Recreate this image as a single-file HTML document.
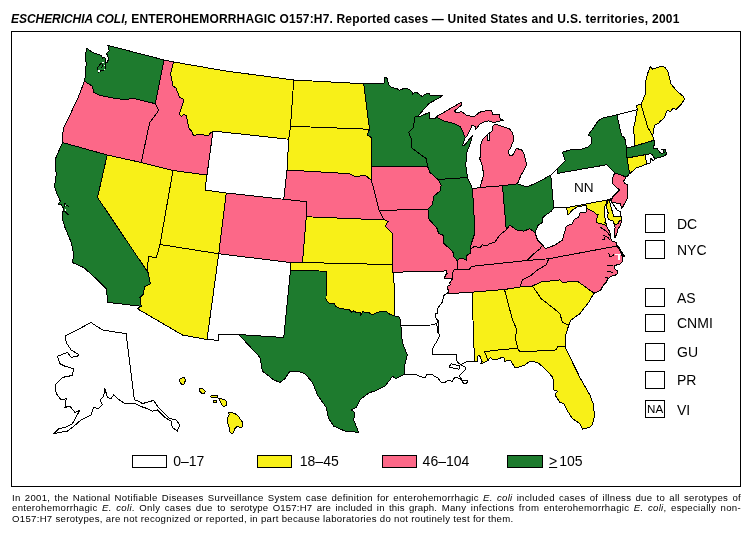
<!DOCTYPE html>
<html><head><meta charset="utf-8"><title>E. coli O157:H7 reported cases 2001</title>
<style>
html,body{margin:0;padding:0;background:#fff;}
body{width:754px;height:537px;position:relative;overflow:hidden;font-family:"Liberation Sans",Arial,Helvetica,sans-serif;color:#000;}
#title{position:absolute;left:11px;top:12px;font-size:12px;font-weight:bold;white-space:nowrap;line-height:14px;letter-spacing:0.17px;}
#frame{position:absolute;left:11px;top:31px;width:730px;height:456px;border:1px solid #000;box-sizing:border-box;}
#map{position:absolute;left:0;top:0;}
.lab{position:absolute;font-size:14px;line-height:16px;white-space:nowrap;}
.box{position:absolute;border:1px solid #000;background:#fff;box-sizing:border-box;}
#foot{position:absolute;left:12px;top:492.6px;width:729px;font-size:9.6px;line-height:10.75px;text-align:justify;letter-spacing:0.3px;}
#foot div{text-align:justify;text-align-last:justify;white-space:nowrap;}
#foot div.last{width:501.5px;}
</style></head><body>
<div id="title"><i style="letter-spacing:-0.05px">ESCHERICHIA COLI,</i> ENTEROHEMORRHAGIC O157:H7. Reported cases — <span style="letter-spacing:0.29px">United States and U.S. territories, 2001</span></div>
<div id="frame"></div>
<svg id="map" width="754" height="537" viewBox="0 0 754 537" shape-rendering="crispEdges">
<g stroke="#000" stroke-width="1" stroke-linejoin="round">
<path id="WA" fill="#1e7b2e" d="M86.6,48.2 L92.7,52.7 L100.9,55.2 L102.5,58.2 L105,57.5 L105.6,62.5 L106.8,62.8 L108.5,59.6 L107.8,55.8 L106.3,53.6 L109.1,50.8 L107.8,45.4 L164.09,59.98 L155.36,103.67 L149.86,102.42 L134.88,98.68 L122.4,99.43 L112.41,97.93 L99.93,95.43 L93.68,92.43 L92.43,86.19 L84.44,81.2 L85.69,74.96 L84.94,69.96 L86.19,64.97 L85.6,56 L86,52 L86.6,48.2Z"/>
<path id="OR" fill="#fc6888" d="M84.44,81.2 L78.7,96.18 L69.96,114.91 L63.72,127.39 L62.47,136.13 L62.5,142.5 L107.2,155 L141.25,162.5 L148.6,127.4 L150,122.2 L158.7,110.4 L155.36,103.67 L149.86,102.42 L134.88,98.68 L122.4,99.43 L112.41,97.93 L99.93,95.43 L93.68,92.43 L92.43,86.19 L84.44,81.2Z"/>
<path id="ID" fill="#fc6888" d="M164.09,59.98 L173.58,61.97 L170.6,74 L172.2,81.9 L172.9,85.9 L176.1,88.2 L179.3,96.9 L184,99.6 L179.3,114.3 L181.6,116.7 L184,114.3 L186.4,115.9 L188.8,127.8 L191.9,131.7 L193.5,135.7 L199,134.1 L203.8,134.9 L208.5,135.7 L210.9,132.5 L212.5,132.5 L213,131 L207,175 L173,170.5 L141.25,162.5 L148.6,127.4 L150,122.2 L158.7,110.4 L155.36,103.67Z"/>
<path id="MT" fill="#f8f018" d="M173.58,61.97 L170.6,74 L172.2,81.9 L172.9,85.9 L176.1,88.2 L179.3,96.9 L184,99.6 L179.3,114.3 L181.6,116.7 L184,114.3 L186.4,115.9 L188.8,127.8 L191.9,131.7 L193.5,135.7 L199,134.1 L203.8,134.9 L208.5,135.7 L210.9,132.5 L212.5,132.5 L213,131 L288.75,139.25 L290.5,126.25 L293.75,80 L225,70.9Z"/>
<path id="WY" fill="#ffffff" d="M213,131 L288.75,139.25 L287,170 L283.75,199.25 L226.25,193 L205,190 L207,175Z"/>
<path id="UT" fill="#f8f018" d="M173,170.5 L207,175 L205,190 L226.25,193 L218.75,253.75 L160,244.5Z"/>
<path id="CO" fill="#fc6888" d="M226.25,193 L283.75,199.25 L307,201.75 L306.25,216.75 L302.5,262.5 L290.5,262.5 L218.75,253.75Z"/>
<path id="NV" fill="#f8f018" d="M107.2,155 L141.25,162.5 L173,170.5 L160,244.5 L156.25,258 L148.75,256.25 L147.5,266 L148,272.5 L97.5,197.5Z"/>
<path id="CA" fill="#1e7b2e" d="M62.5,142.5 L107.2,155 L97.5,197.5 L148,272.5 L150.36,283.72 L144.37,286.97 L143.62,293.71 L139.88,297.45 L141.25,306.25 L107.92,302.45 L106.17,288.71 L96.18,278.73 L83.7,267.49 L72.46,262.5 L72.46,262.36 L73.71,254.87 L71.21,242.38 L64.97,227.4 L62.4,219 L62.4,212.2 L63.2,211.6 L63,207.8 L60.8,204.3 L58.1,204 L60.5,201.6 L55.4,190 L54.48,186.2 L56.23,174.97 L54.98,159.99 L58.73,151.25Z"/>
<path id="AZ" fill="#f8f018" d="M160,244.5 L218.75,253.75 L207,339.5 L182.5,335 L137.5,308.75 L141.25,306.25 L139.88,297.45 L143.62,293.71 L144.37,286.97 L150.36,283.72 L148,272.5 L147.5,266 L148.75,256.25 L156.25,258Z"/>
<path id="NM" fill="#ffffff" d="M218.75,253.75 L290.5,262.5 L290.5,270 L283.75,337.5 L238.75,334.5 L218.5,334.5 L218.5,340.3 L207,339.5Z"/>
<path id="TX" fill="#1e7b2e" d="M238.75,334.5 L283.75,337.5 L290.5,270 L326.25,271.25 L326,299.5 L328,302.2 L330.1,303.8 L333.8,303.3 L335.9,306.4 L339.1,308 L344.4,309.1 L348.6,309.1 L351.8,312.3 L353.9,310.7 L356.6,312.8 L360.3,312.3 L360.8,315.5 L362.4,311.8 L365.6,312.3 L369.3,312.8 L372,314.9 L376.2,312.8 L382.6,311.2 L386.8,311.8 L390,314.4 L394.8,316 L399,317.1 L400.3,319.5 L400.9,325.4 L402.35,342.47 L407.34,354.96 L404.84,364.94 L405,374 L396.1,378.68 L392.36,376.18 L389.86,379.93 L384.87,386.17 L374.88,391.16 L369.89,392.41 L366.14,394.91 L359.9,399.9 L356.15,407.39 L351.16,409.89 L354.91,412.38 L353.66,419.88 L358.65,432.36 L344.92,431.11 L333.68,426.12 L328.69,418.63 L326.19,407.39 L317.45,394.91 L312.46,382.42 L304.97,373.68 L297.48,371.19 L289.99,371.19 L284.99,378.68 L280,382.42 L273.66,379.85 L262.42,371.11 L259.93,357.38Z"/>
<path id="OK" fill="#f8f018" d="M290.5,262.5 L302.5,262.5 L392,264.6 L393,272.6 L394.3,285.9 L394.8,316 L390,314.4 L386.8,311.8 L382.6,311.2 L376.2,312.8 L372,314.9 L369.3,312.8 L365.6,312.3 L362.4,311.8 L360.8,315.5 L360.3,312.3 L356.6,312.8 L353.9,310.7 L351.8,312.3 L348.6,309.1 L344.4,309.1 L339.1,308 L335.9,306.4 L333.8,303.3 L330.1,303.8 L328,302.2 L326,299.5 L326.25,271.25 L290.5,270Z"/>
<path id="KS" fill="#f8f018" d="M306.25,216.75 L385.1,220 L388.5,221.5 L387.1,223.2 L385.5,226.2 L389.5,230.5 L392,232.6 L392,264.6 L302.5,262.5Z"/>
<path id="NE" fill="#fc6888" d="M287,170 L349.81,173.72 L356.05,176.97 L364.79,174.97 L371.25,180 L375.4,195 L377.8,205 L379.1,210.4 L382.8,217.8 L385.1,220 L306.25,216.75 L307,201.75 L283.75,199.25Z"/>
<path id="SD" fill="#f8f018" d="M290.5,126.25 L369.5,129.25 L367.29,134.88 L371.04,137.38 L371.25,166.25 L371.25,180 L364.79,174.97 L356.05,176.97 L349.81,173.72 L287,170 L288.75,139.25Z"/>
<path id="ND" fill="#f8f018" d="M293.75,80 L363.75,83.75 L366.04,102.42 L369.5,129.25 L290.5,126.25Z"/>
<path id="MN" fill="#1e7b2e" d="M363.75,83.75 L375,83.5 L384,83.3 L384.5,77.4 L386.7,77.4 L388.8,84.9 L390.9,87 L397.8,89.1 L399.4,90.2 L403.6,88.6 L409,89.1 L412.1,91.8 L412.7,94.4 L414.3,92.8 L417.4,92.8 L420.6,95.5 L422.2,96.5 L425.9,93.9 L429.6,93.3 L430.2,95.5 L442.9,95.5 L438.7,98.1 L429.1,103.4 L417.4,116.7 L414.5,117.2 L413.71,127.39 L408.71,132.38 L411.21,138.63 L411.21,147.37 L417.45,152.36 L426.19,158.6 L427.5,166.25 L371.25,166.25 L371.04,137.38 L367.29,134.88 L369.5,129.25 L366.04,102.42Z"/>
<path id="IA" fill="#fc6888" d="M371.25,166.25 L427.5,166.25 L429.94,172.47 L438,179.5 L441.17,184.96 L439.93,191.2 L433.68,196.19 L432.43,204.93 L431.25,205.59 L428,209.3 L379.1,210.4 L377.8,205 L375.4,195 L371.25,180Z"/>
<path id="MO" fill="#fc6888" d="M379.1,210.4 L428,209.3 L428.45,218.62 L436.83,227.93 L438.7,233.52 L443.35,235.38 L443.35,242.83 L450.9,250 L453.2,252.7 L453.9,256.6 L457.2,260.6 L457.9,265.3 L457.9,269.2 L454.2,269.6 L452.6,273.2 L452.6,278.5 L444.3,278.5 L445.6,274.9 L447.3,273.5 L446.3,270.9 L440.6,271.2 L411.5,271.5 L393,272.6 L392,232.6 L389.5,230.5 L385.5,226.2 L387.1,223.2 L388.5,221.5 L385.1,220 L382.8,217.8Z"/>
<path id="AR" fill="#ffffff" d="M393,272.6 L411.5,271.5 L440.6,271.2 L446.3,270.9 L447.3,273.5 L445.6,274.9 L444.3,278.5 L452.6,278.5 L450.9,281.2 L449.6,283.2 L450.3,285 L447.1,286.5 L448.7,291.8 L446,293.8 L443.4,295.8 L442.7,301.8 L438,307.8 L437.4,313.1 L435.4,313.1 L436.1,319 L438,320.4 L436.7,323.7 L431.4,325 L400.9,325.4 L400.3,319.5 L399,317.1 L394.8,316 L394.3,285.9Z"/>
<path id="LA" fill="#ffffff" d="M400.9,325.4 L431.4,325 L436.7,323.7 L438,333 L439.93,334.91 L436.18,342.4 L432.43,348.64 L432.2,354.9 L456.7,354.6 L456.1,359.1 L458.5,363.3 L460.9,364.5 L462.1,365.7 L465.1,366.9 L465.1,369.8 L462.1,372.8 L459.1,375.8 L462.1,380 L468,380.6 L466.8,383 L463.9,384.2 L462.1,380.6 L458.5,378.2 L454.9,377 L452.5,381.2 L447.7,380.6 L444.2,383 L440.6,381.8 L438.2,378.2 L434.6,376.4 L432.2,374 L426.9,374 L425.7,377 L422.1,377 L415.5,374.6 L405,374 L404.84,364.94 L407.34,354.96 L402.35,342.47Z"/>
<path id="MS" fill="#ffffff" d="M446,293.8 L472,292.2 L474.5,361.3 L466,361.9 L460.9,364.5 L458.5,363.3 L456.1,359.1 L456.7,354.6 L432.2,354.9 L432.43,348.64 L436.18,342.4 L439.93,334.91 L438,333 L438,320.4 L436.1,319 L435.4,313.1 L437.4,313.1 L438,307.8 L442.7,301.8 L443.4,295.8Z"/>
<path id="AL" fill="#f8f018" d="M472,292.2 L504.5,289.5 L512.5,320 L517,330 L515,338 L516.7,343 L517.5,348 L515.9,348.4 L494.4,350.3 L484.5,351.9 L486.1,355.1 L487.7,360.7 L486.5,361.1 L482.9,363.1 L480.5,363.5 L482.1,361.5 L479.7,355.9 L478.1,355.5 L477.3,361.5 L474.5,361.3Z"/>
<path id="FL" fill="#f8f018" d="M487.7,360.7 L486.1,355.1 L484.5,351.9 L494.4,350.3 L515.9,348.4 L517.5,348 L519.9,351.9 L556.15,349.96 L557.9,346.22 L565,347 L579.88,377.43 L589.86,394.91 L593.61,404.89 L594.36,416.13 L592.36,424.87 L589.86,427.37 L582.37,429.11 L579.88,423.62 L572.38,418.63 L566.14,408.64 L563.65,403.65 L559.9,402.4 L554.91,394.91 L557.4,391.16 L553.66,389.91 L552.91,377.43 L543.67,367.44 L537.43,362.45 L529.94,361.2 L524.94,364.94 L519.1,367 L515.1,367.8 L512.7,363.9 L510.7,360.7 L508.4,360.7 L504.8,361.1 L504,357.9 L501.6,357.5 L499.2,358.7 L494.8,359.9 L492.4,359.5 L490.5,357.5Z"/>
<path id="GA" fill="#f8f018" d="M504.5,289.5 L520,287 L532.5,286 L541.17,298.65 L552.41,307.39 L559.9,313.63 L562.4,322.37 L568.75,325 L565,337.5 L565,347 L557.9,346.22 L556.15,349.96 L519.9,351.9 L517.5,348 L516.7,343 L515,338 L517,330 L512.5,320Z"/>
<path id="SC" fill="#f8f018" d="M532.5,286 L541.17,281.92 L559.9,279.93 L562.4,282.42 L577.38,281.17 L594,293.2 L588.61,302.4 L579.88,313.63 L571.14,319.88 L568.75,325 L562.4,322.37 L559.9,313.63 L552.41,307.39 L541.17,298.65Z"/>
<path id="NC" fill="#fc6888" d="M520,287 L522.45,279.93 L529.94,276.18 L537.43,269.94 L546.17,264.94 L548.75,258.75 L617,246 L620.2,251 L622.7,257.1 L622.7,261.1 L620.2,264.1 L614.1,265.6 L614.1,268.6 L617.1,270.6 L617.6,273.6 L615.1,275.2 L611.6,276.2 L607.6,278.7 L606.6,281.7 L602.6,286.2 L600.6,290.2 L594,293.2 L577.38,281.17 L562.4,282.42 L559.9,279.93 L541.17,281.92 L532.5,286Z"/>
<path id="TN" fill="#fc6888" d="M457.9,269.2 L469.5,269.2 L471.5,266.6 L476.1,265.9 L526.75,260.5 L548.75,258.75 L546.17,264.94 L537.43,269.94 L529.94,276.18 L522.45,279.93 L520,287 L504.5,289.5 L472,292.2 L446,293.8 L448.7,291.8 L447.1,286.5 L450.3,285 L449.6,283.2 L450.9,281.2 L452.6,278.5 L452.6,273.2 L454.2,269.6Z"/>
<path id="KY" fill="#fc6888" d="M457.2,260.6 L459.5,258.3 L464.2,259 L466.2,260.3 L466.2,256.6 L468.2,254.3 L470.8,253.3 L470.5,248.75 L474.88,246.13 L479.88,247.88 L482.37,244.88 L486.12,246.13 L489.86,243.63 L494.86,242.38 L499.85,234.89 L506.25,230 L509.84,224.91 L516.08,229.9 L523.57,231.15 L529.81,228.65 L535,232.5 L537.5,240 L542.5,245 L540,248.75 L533.75,253.75 L526.75,260.5 L476.1,265.9 L471.5,266.6 L469.5,269.2 L457.9,269.2 L457.9,265.3Z"/>
<path id="IL" fill="#1e7b2e" d="M438,179.5 L467.5,177.5 L472.5,188.75 L475,232.5 L471.25,243.75 L470.5,248.75 L470.8,253.3 L468.2,254.3 L466.2,256.6 L466.2,260.3 L464.2,259 L459.5,258.3 L457.2,260.6 L453.9,256.6 L453.2,252.7 L450.9,250 L443.35,242.83 L443.35,235.38 L438.7,233.52 L436.83,227.93 L428.45,218.62 L428,209.3 L431.25,205.59 L432.43,204.93 L433.68,196.19 L439.93,191.2 L441.17,184.96Z"/>
<path id="IN" fill="#fc6888" d="M472.5,188.75 L480,187.5 L502.5,185.75 L506.25,230 L499.85,234.89 L494.86,242.38 L489.86,243.63 L486.12,246.13 L482.37,244.88 L479.88,247.88 L474.88,246.13 L470.5,248.75 L471.25,243.75 L475,232.5Z"/>
<path id="OH" fill="#1e7b2e" d="M502.5,185.75 L517.5,183.75 L527.32,186.95 L539.8,181.21 L550.75,175 L553.75,208 L551.1,211.4 L543.1,216.9 L542.3,222.5 L538.3,224.9 L535,232.5 L529.81,228.65 L523.57,231.15 L516.08,229.9 L509.84,224.91 L506.25,230Z"/>
<path id="MI" fill="#fc6888" d="M480,187.5 L483.62,174.97 L482.4,166 L479.7,158.7 L480.4,156 L481.1,142.7 L483,138.8 L487.7,134.8 L487.7,140.1 L489.7,140.1 L489,133.5 L493,130.1 L492.3,126.8 L495,123.9 L501.6,126.2 L509.6,128.8 L512.9,133.5 L513.6,140.1 L510.9,147.4 L508.2,151.4 L509.6,155.3 L512.2,156 L516.2,148.7 L521.5,149.4 L524.2,154.7 L526.2,162.6 L526.2,166 L524.82,168.73 L521.07,174.97 L517.5,183.75 L502.5,185.75Z M436,116.9 L461.2,102.3 L461.8,104.9 L454.5,110.9 L455.9,112.9 L461.8,111.6 L465.8,114.9 L473.8,116.9 L479.7,112.2 L488.4,110.3 L491.7,110.3 L492.3,114.2 L499,114.2 L500.3,118.9 L503.6,120.2 L495.6,122.2 L492.3,122.2 L488.4,120.9 L483,122.2 L479.1,124.8 L475.8,129.5 L475.1,126.2 L471.8,125.5 L471.1,128.2 L468.5,132.8 L467.1,136.1 L465.1,137.4 L462.5,130.8 L460.5,126.8 L453.9,123.5 L443.3,120.9Z"/>
<path id="WI" fill="#1e7b2e" d="M414.5,117.2 L417.4,116.2 L419.6,116.7 L429.1,112.4 L429.6,118.3 L435.5,118.3 L436,116.9 L443.3,120.9 L453.9,123.5 L460.5,126.8 L462.5,130.8 L465.1,137.4 L462.5,145.4 L463.8,146.1 L472.4,135.5 L471.1,140.8 L468.5,148.1 L466.5,153.4 L465.8,166 L467.5,177.5 L438,179.5 L429.94,172.47 L427.5,166.25 L426.19,158.6 L417.45,152.36 L411.21,147.37 L411.21,138.63 L408.71,132.38 L413.71,127.39Z"/>
<path id="PA" fill="#ffffff" d="M550.75,175 L557.2,168.9 L557.9,173.3 L607,164.7 L610.9,169 L614.8,172.9 L612.8,177.2 L612.4,183.5 L619.5,190.1 L612.8,196.8 L612.3,198.3 L608.5,199.7 L566.5,207.7 L553.75,208Z"/>
<path id="NY" fill="#1e7b2e" d="M557.9,173.3 L557.2,168.7 L565.1,160.7 L562.5,152.1 L572.4,149.4 L581.1,149.4 L588.4,146.8 L591.3,143.5 L591,136.8 L588.4,134.8 L592.3,129.5 L597.6,121.6 L601.6,118.3 L616.9,114.9 L621.5,135.5 L624.8,138.2 L626.5,148.2 L627,158 L628.9,169.1 L629.3,173.3 L627.3,176.8 L625.7,176.8 L619.5,174.5 L614.8,172.9 L610.9,169 L607,164.7Z"/>
<path id="NJ" fill="#fc6888" d="M614.8,172.9 L619.5,174.5 L625.7,176.8 L625.3,178.4 L623.8,180.7 L624.2,183.5 L627.7,184.6 L627.7,192.9 L627.6,198 L624.6,203.4 L622.9,206.8 L621.6,208.1 L620.2,203.4 L613.2,202.7 L611.5,201.4 L612.3,198.3 L612.8,196.8 L619.5,190.1 L612.4,183.5 L612.8,177.2Z"/>
<path id="DE" fill="#ffffff" d="M608.5,199.7 L610.5,199 L611.2,201.7 L614.8,206.4 L616.9,210.1 L620.2,211.8 L621.2,216.5 L617.5,217.2 L613.8,216.8 L612.8,213.5 L611.2,207.4 L609.8,202Z"/>
<path id="MD" fill="#f8f018" d="M566.5,207.7 L608.5,199.7 L607.5,200.5 L605.4,205 L604.6,207 L604.5,211.5 L604.6,216.8 L605.4,219.2 L606.1,220.8 L604.8,222.2 L606.8,224.2 L606.1,225.5 L602.1,223.9 L598.7,223.2 L596.1,222.2 L596.7,218.8 L598.1,214.8 L596.4,214.1 L593.75,211.9 L587,208.3 L586.9,205.5 L580.6,206.2 L578.75,206 L572.5,210 L568,215Z M608.3,200.2 L609.8,202 L611.2,207.4 L612.8,213.5 L613.8,216.8 L621.2,216.5 L621.6,219.5 L619.5,220.8 L617.5,223.9 L615.5,225.2 L613.8,223.5 L612.8,220.8 L611.2,220.5 L608.8,219.5 L607.8,217.2 L608.1,212.8 L607.1,209.4 L606.5,206.8 L606.3,205.4 L607.8,201.8Z"/>
<path id="WV" fill="#ffffff" d="M553.75,208 L566.5,207.7 L568,215 L572.5,210 L578.75,206 L580.6,206.2 L586.9,205.5 L587,208.3 L586.25,211.9 L580,213 L578.75,216.9 L573.75,220 L572.5,223.75 L566.25,226.25 L562.5,240 L555,245 L545.5,248.75 L542.5,245 L537.5,240 L535,232.5 L538.3,224.9 L542.3,222.5 L543.1,216.9 L551.1,211.4Z"/>
<path id="VA" fill="#fc6888" d="M526.75,260.5 L533.75,253.75 L540,248.75 L542.5,245 L545.5,248.75 L555,245 L562.5,240 L566.25,226.25 L572.5,223.75 L573.75,220 L578.75,216.9 L580,213 L586.25,211.9 L587,208.3 L593.75,211.9 L596.4,214.1 L598.1,214.8 L596.7,218.8 L596.1,222.2 L598.7,223.2 L602.1,223.9 L606.1,225.5 L609.1,230.5 L610.5,234.7 L610.5,238.3 L611.9,241.1 L614.8,241.8 L616.5,242.5 L617,246 L548.75,258.75Z M614.8,224.6 L617.5,223.9 L619.7,221.5 L621.6,219.8 L620.4,225.5 L618.3,228.4 L616.9,233.3 L615.1,237.9 L614,235.4 L614,232.6 L615.1,227.7Z"/>
<path id="VT" fill="#ffffff" d="M616.9,114.9 L637.2,109.8 L635.1,121.2 L633.5,128.7 L634.4,138.4 L634.9,146 L626.5,148.2 L624.8,138.2 L621.5,135.5Z"/>
<path id="NH" fill="#f8f018" d="M637.2,109.8 L636.8,105.3 L641,104.4 L647.7,127.1 L652.7,136.3 L654,140.3 L650.8,141.2 L634.9,146 L634.4,138.4 L633.5,128.7 L635.1,121.2Z"/>
<path id="ME" fill="#f8f018" d="M641,104.4 L645.2,94.4 L646,80.1 L647.7,73.4 L650.2,66.7 L652.7,69.2 L660.3,66.4 L664.5,67.1 L667.8,70.9 L671.2,84.3 L677,91 L682.9,96.1 L684.6,99.4 L680.4,105.3 L676.2,109.5 L672.8,108.3 L670.3,112 L667.8,110 L666.1,112.8 L664.5,117.8 L660.3,121.2 L658.6,123.7 L655.2,124.5 L653.6,128.7 L652.7,136.3 L647.7,127.1Z"/>
<path id="MA" fill="#1e7b2e" d="M626.5,148.2 L634.9,146 L650.8,141.2 L654,140.3 L654.5,144 L653.1,148.2 L656.8,148.2 L660,152.4 L662,153.8 L664.3,152.4 L663.3,150 L661,149.1 L665.2,149.1 L666.6,153.8 L665.2,155.6 L660,157.5 L659.1,157 L656.8,158 L655.4,158.9 L652.2,154.7 L650.3,153.8 L645.2,154.7 L627,158Z"/>
<path id="CT" fill="#f8f018" d="M627,158 L645.2,154.7 L646.6,164 L642.4,165.9 L635.8,168.2 L630.3,173.3 L629.3,173.3 L628.9,169.1Z"/>
<path id="RI" fill="#ffffff" d="M645.2,154.7 L650.3,153.8 L652.2,154.7 L655,159.4 L653.1,160.8 L651,158.5 L649.8,163.5 L646.6,164Z"/>
<path id="AK" fill="#ffffff" d="M91.19,322.48 L95.43,325.48 L102.42,329.98 L126.14,333.72 L134.38,399.89 L138.63,401.14 L142.37,403.63 L153.61,400.39 L157.35,406.13 L169.84,418.61 L176.08,419.86 L179.83,424.86 L177.33,431.1 L172.33,427.35 L171.09,421.11 L164.84,417.37 L157.35,409.88 L152.36,411.12 L147.37,408.63 L139.88,406.13 L134.88,403.63 L124.89,403.63 L117.4,398.64 L113.66,394.89 L111.16,398.64 L107.42,397.39 L104.92,388.65 L103.67,396.14 L99.93,399.89 L102.42,404.88 L98.68,408.63 L93.68,407.38 L91.19,414.87 L81.2,419.86 L72.46,427.35 L67.47,431.1 L53.73,433.6 L58.73,428.6 L64.97,427.35 L72.46,423.61 L79.95,409.88 L74.96,412.37 L69.96,406.13 L64.97,407.38 L66.22,398.64 L61.22,399.89 L56.23,393.65 L54.98,384.91 L62.47,377.42 L72.46,375.42 L73.71,368.68 L64.97,366.18 L59.98,363.68 L57.48,356.19 L67.47,352.45 L71.21,357.44 L77.45,356.19 L78.7,354.44 L71.21,349.95 L66.22,342.46 L64.97,336.22Z"/>
<path id="HI" fill="#f8f018" d="M180.11,378.77 L184.13,377.43 L185.47,380.11 L184.13,384.13 L181.45,384.13 L179.44,381.45Z M199.54,388.42 L202.23,388.42 L205.31,391.5 L204.24,393.51 L201.55,393.24 L199.54,390.83Z M210.24,396.52 L211.64,395.59 L217.69,395.59 L217.69,397.45 L211.64,397.64Z M213.97,400.24 L216.95,400.24 L216.95,402.85 L213.97,402.85Z M218.62,398.38 L224.21,399.31 L227,402.1 L226.54,404.9 L224.21,406.57 L222.35,405.36 L220.02,400.71Z M228.4,412.35 L230.73,412.35 L234.45,413.28 L238.18,416.07 L242.36,422.12 L242.83,426.78 L240.97,427.71 L237.24,426.31 L234.92,428.64 L233.05,432.83 L231.66,433.76 L229.8,431.9 L228.86,426.31 L227.47,422.59 L227.47,417.93 L229.33,414.67Z"/>
<path fill="none" d="M105.6,58.4 L105.6,65.5 L104.8,69.8 L100.5,71 L98,72.5" />
<path fill="none" d="M103.5,62.5 L100.9,63.6 L97.4,67.8 L98,70" />
<path fill="none" d="M103,64 L101.5,68.5" />
<rect x="102" y="62" width="2" height="1" fill="#fff" stroke="none"/>
<rect x="104" y="65" width="1" height="1" fill="#fff" stroke="none"/>
<rect x="104" y="69" width="1" height="1" fill="#fff" stroke="none"/>
<rect x="98" y="70" width="2" height="1.5" fill="#fff" stroke="none"/>
<path fill="none" d="M63.2,211.6 L64.6,203.5 L65.5,203.5" />
<path fill="none" d="M66.2,205.7 L68.6,206.2" />
<path fill="none" d="M64.6,211 L68.6,215.1" />
<rect x="65" y="205" width="1" height="1" fill="#fff" stroke="none"/>
<rect x="65" y="209" width="1" height="2" fill="#fff" stroke="none"/>
<path fill="none" d="M600.6,227.3 L606.3,231.2 L609.8,235.4" />
<path fill="none" d="M603.1,235.4 L607.7,237.2 L610.5,240.4" />
<path fill="none" d="M602.4,239 L604.9,239.3 L604.1,237.2" />
<path fill="none" d="M617.1,245 L624.7,257.1" stroke-width="1.6"/>
<path fill="#fff" stroke="none" d="M614.5,253.5 L620.5,253.5 L620.5,255 L619.6,255 L619.6,260.3 L618,260.3 L618,255 L614.5,255Z"/>
<path fill="none" d="M608.6,252.5 L610,257 L614.5,254.5" />
<path fill="none" d="M607,265.6 L613,265.6" />
<path fill="none" d="M607.5,271 L613,272.6" />
<path fill="none" d="M605,277 L608,278" />
<path fill="#fff" d="M448.9,366.9 L451.3,363.9 L456.1,365.1 L459.7,365.7 L459.1,369.2 L456.1,368.6 L452.5,368Z"/>
</g>
</svg>
<div class="box" style="left:645px;top:214px;width:20px;height:19px;"></div>
<div class="lab" style="left:677px;top:216px;">DC</div>
<div class="box" style="left:645px;top:240px;width:20px;height:19px;"></div>
<div class="lab" style="left:677px;top:242px;">NYC</div>
<div class="box" style="left:645px;top:288px;width:20px;height:19px;"></div>
<div class="lab" style="left:677px;top:290.4px;">AS</div>
<div class="box" style="left:645px;top:314px;width:20px;height:18px;"></div>
<div class="lab" style="left:677px;top:315.2px;">CNMI</div>
<div class="box" style="left:645px;top:343px;width:20px;height:18px;"></div>
<div class="lab" style="left:677px;top:343.7px;">GU</div>
<div class="box" style="left:645px;top:371px;width:20px;height:18px;"></div>
<div class="lab" style="left:677px;top:372.2px;">PR</div>
<div class="box" style="left:645px;top:400px;width:20px;height:18px;"></div>
<div class="lab" style="left:677px;top:401.8px;">VI</div>
<div class="lab" style="left:647.4px;top:402.7px;font-size:10.2px;line-height:13px;transform:scaleX(1.14);transform-origin:0 0;">NA</div>
<div class="box" style="left:132px;top:455px;width:35px;height:13px;background:#fff;"></div>
<div class="lab" style="left:173.2px;top:453.4px;">0–17</div>
<div class="box" style="left:257px;top:455px;width:35px;height:13px;background:#f8f018;"></div>
<div class="lab" style="left:299.8px;top:453.4px;">18–45</div>
<div class="box" style="left:382px;top:455px;width:35px;height:13px;background:#fc6888;"></div>
<div class="lab" style="left:422.6px;top:453.4px;">46–104</div>
<div class="box" style="left:507px;top:455px;width:36px;height:13px;background:#1e7b2e;"></div>
<div class="lab" style="left:549px;top:453.4px;"><u>&gt;</u><span style='margin-left:2px'>105</span></div>
<div class="lab" style="left:574px;top:180.4px;font-size:12.6px;transform:scaleX(1.08);transform-origin:0 0;">NN</div>
<div id="foot"><div>In 2001, the National Notifiable Diseases Surveillance System case definition for enterohemorrhagic <i>E. coli</i> included cases of illness due to all serotypes of</div><div>enterohemorrhagic <i>E. coli</i>. Only cases due to <span style="letter-spacing:0.17px">serotype O157:H7 are included in this graph.</span> Many infections from enterohemorrhagic <i>E. coli</i>, especially non-</div><div class="last">O157:H7 serotypes, are not recognized or reported, in part because laboratories do not routinely test for them.</div></div>
</body></html>
